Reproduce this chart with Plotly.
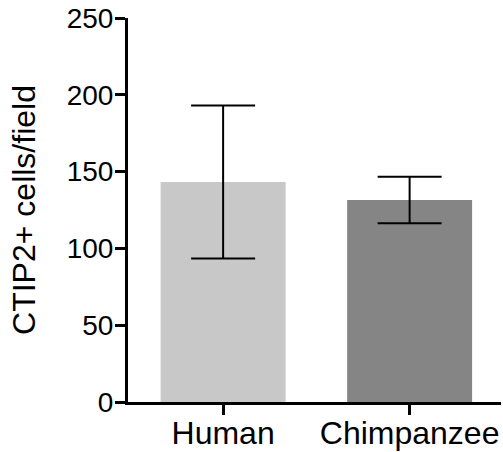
import plotly.graph_objects as go

categories = ["Human", "Chimpanzee"]
means = [143.2, 131.5]
errors = [49.8, 15.2]
colors = ["#c8c8c8", "#858585"]

font_family = "Arial, 'Liberation Sans', Helvetica, sans-serif"

fig = go.Figure()
fig.add_trace(go.Bar(
    x=categories,
    y=means,
    marker=dict(color=colors, line=dict(width=0)),
    width=0.67,
    error_y=dict(type="data", array=errors, visible=True,
                 color="black", thickness=2, width=32),
))

fig.update_layout(
    width=503, height=452,
    margin=dict(l=128, r=2, t=18, b=50),
    plot_bgcolor="white", paper_bgcolor="white",
    showlegend=False,
    font=dict(family=font_family, color="black"),
    xaxis=dict(
        range=[-0.51, 1.49],
        showline=True, linecolor="black", linewidth=3,
        ticks="outside", ticklen=10, tickwidth=3, tickcolor="black",
        tickfont=dict(size=32, family=font_family, color="black"),
        ticklabelstandoff=-9,
        showgrid=False, zeroline=False,
        automargin=False,
    ),
    yaxis=dict(
        range=[0, 250],
        tickvals=[0, 50, 100, 150, 200, 250],
        showline=True, linecolor="black", linewidth=3,
        ticks="outside", ticklen=10, tickwidth=3, tickcolor="black",
        tickfont=dict(size=28, family=font_family, color="black"),
        ticklabelstandoff=-4,
        showgrid=False, zeroline=False,
        title=dict(text="CTIP2+ cells/field", font=dict(size=32, family=font_family, color="black"), standoff=22),
        automargin=False,
    ),
)

fig.write_html("out.html")
